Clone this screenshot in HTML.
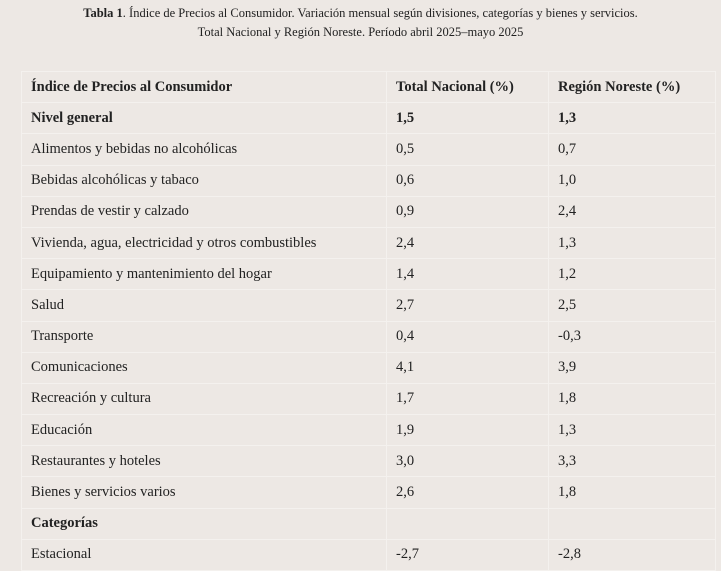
<!DOCTYPE html>
<html><head><meta charset="utf-8"><style>
html,body{margin:0;padding:0;background:#ede8e4;width:721px;height:570px;overflow:hidden;font-family:"Liberation Serif",serif;color:#222;}
.t{position:absolute;left:0;width:721px;text-align:center;font-size:12.5px;}
table{position:absolute;left:21px;top:71px;width:695px;border-collapse:collapse;font-size:14.5px;}
td{border:1px solid #f4f1ee;height:30.2px;padding:0 0 0 9px;vertical-align:middle;}
td:nth-child(1){width:355px}
td:nth-child(2){width:152px}
.b td{font-weight:bold}
</style></head><body>
<div class="t" style="top:6px"><b>Tabla 1</b>. Índice de Precios al Consumidor. Variación mensual según divisiones, categorías y bienes y servicios.</div>
<div class="t" style="top:25px">Total Nacional y Región Noreste. Período abril 2025–mayo 2025</div>
<table>
<tr class="b"><td>Índice de Precios al Consumidor</td><td>Total Nacional (%)</td><td>Región Noreste (%)</td></tr>
<tr class="b"><td>Nivel general</td><td>1,5</td><td>1,3</td></tr>
<tr><td>Alimentos y bebidas no alcohólicas</td><td>0,5</td><td>0,7</td></tr>
<tr><td>Bebidas alcohólicas y tabaco</td><td>0,6</td><td>1,0</td></tr>
<tr><td>Prendas de vestir y calzado</td><td>0,9</td><td>2,4</td></tr>
<tr><td>Vivienda, agua, electricidad y otros combustibles</td><td>2,4</td><td>1,3</td></tr>
<tr><td>Equipamiento y mantenimiento del hogar</td><td>1,4</td><td>1,2</td></tr>
<tr><td>Salud</td><td>2,7</td><td>2,5</td></tr>
<tr><td>Transporte</td><td>0,4</td><td>-0,3</td></tr>
<tr><td>Comunicaciones</td><td>4,1</td><td>3,9</td></tr>
<tr><td>Recreación y cultura</td><td>1,7</td><td>1,8</td></tr>
<tr><td>Educación</td><td>1,9</td><td>1,3</td></tr>
<tr><td>Restaurantes y hoteles</td><td>3,0</td><td>3,3</td></tr>
<tr><td>Bienes y servicios varios</td><td>2,6</td><td>1,8</td></tr>
<tr class="b"><td>Categorías</td><td></td><td></td></tr>
<tr><td>Estacional</td><td>-2,7</td><td>-2,8</td></tr>
</table>
</body></html>
